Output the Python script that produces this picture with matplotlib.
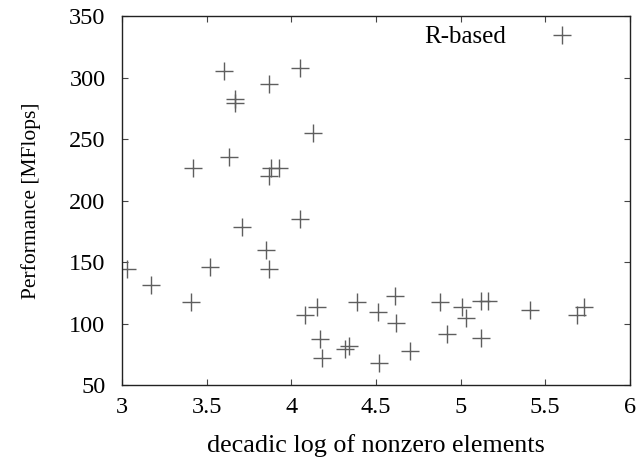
import matplotlib
matplotlib.use("Agg")
import matplotlib.pyplot as plt

# decadic log of nonzero elements vs. performance
log_nnz = [3.60, 4.05, 3.87, 3.67, 3.67, 4.13, 3.63, 3.42, 3.88, 3.93,
           3.87, 4.05, 3.71, 3.85, 3.87, 3.03, 3.52, 3.17, 3.41, 4.08,
           4.15, 4.17, 4.18, 4.32, 4.34, 4.39, 4.51, 4.61, 4.62, 4.52,
           4.70, 4.88, 4.92, 5.01, 5.03, 5.12, 5.16, 5.12, 5.41, 5.69,
           5.73]
mflops = [306, 308, 295, 283, 280, 255, 236, 227, 227, 227,
          220, 185, 179, 160, 145, 145, 146, 132, 118, 107,
          114, 88, 72, 80, 82, 118, 110, 123, 101, 68,
          78, 118, 92, 114, 105, 119, 119, 89, 111, 107,
          114]

x_ticks = [3, 3.5, 4, 4.5, 5, 5.5, 6]
x_tick_labels = ["3", "3.5", "4", "4.5", "5", "5.5", "6"]
y_ticks = [50, 100, 150, 200, 250, 300, 350]

plt.rcParams["font.family"] = ["Liberation Serif", "DejaVu Serif"]

fig = plt.figure(figsize=(6.41, 4.63), dpi=100)
ax = fig.add_axes([0.1905, 0.1674, 0.7919, 0.797])

ax.plot(log_nnz, mflops, linestyle="none", marker="+", markersize=12.5,
        markeredgewidth=1.0, color="#5e5e5e", label="R-based")

ax.set_xlim(3, 6)
ax.set_ylim(50, 350)
ax.set_xticks(x_ticks, x_tick_labels)
ax.set_yticks(y_ticks)
ax.tick_params(direction="in", length=4.5, width=0.8, color="#444444",
               top=True, right=True, labelsize=17.5, pad=8)
ax.tick_params(axis="y", pad=12)
for side in ax.spines.values():
    side.set_linewidth(1.0)
    side.set_color("#222222")

ax.set_xlabel("decadic log of nonzero elements", fontsize=18.8, labelpad=12)
ax.set_ylabel("Performance [MFlops]", fontsize=15.5, labelpad=20)

ax.legend(loc="upper right", bbox_to_anchor=(0.915, 0.944),
          bbox_transform=fig.transFigure, frameon=False, markerfirst=False,
          fontsize=18, handlelength=2.0, handletextpad=1.2,
          borderpad=0, borderaxespad=0)

fig.savefig("out.png", dpi=100)
